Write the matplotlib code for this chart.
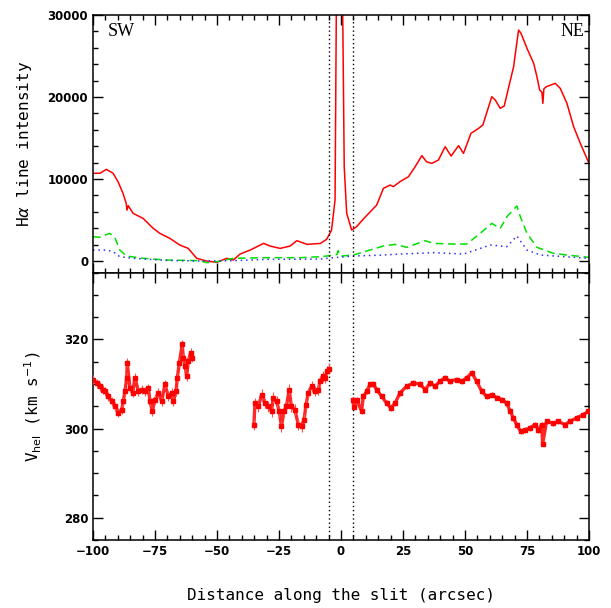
import numpy as np
import matplotlib.pyplot as plt
from matplotlib.ticker import MultipleLocator

# H-alpha intensity, main component (solid red)
x_red = [-100, -97.2, -94.6, -91.9, -89.9, -87.9, -86.6, -86.3, -85.8, -83.8, -79.8, -75.7,
         -73.0, -69.0, -65.0, -61.6, -58.2, -54.2, -50.1, -46.1, -43.4, -40.7, -36.6,
         -31.2, -28.6, -24.5, -20.5, -17.8, -13.7, -8.3, -5.8, -3.8, -2.4, -1.9, -0.6,
         0.7, 1.3, 2.3, 4.3, 6.3, 9.0, 14.4, 17.1, 19.8, 21.1, 23.8, 27.2, 29.9, 32.6,
         34.5, 36.6, 39.3, 42.0, 44.4, 47.4, 49.4, 52.4, 55.5, 57.2, 60.8, 62.2, 64.2,
         65.8, 69.6, 71.6, 72.6, 75.0, 77.7, 79.0, 80.1, 81.0, 81.4, 81.8, 82.8, 86.4,
         88.4, 91.1, 93.8, 96.5, 100]
y_red = [10700, 10700, 11180, 10700, 9680, 8250, 7030, 6200, 6750, 5810, 5200, 3980,
         3370, 2760, 1950, 1540, 330, 0, -160, 330, 120, 850, 1340,
         2150, 1830, 1540, 1830, 2480, 2030, 2150, 2640, 3780, 7440, 30000, 60000,
         30000, 11500, 5810, 3780, 4190, 5120, 6830, 8860, 9270, 9070, 9680, 10280, 11500, 12850,
         12100, 11910, 12320, 13940, 12800, 14070, 13130, 15570, 16180, 16590, 20040, 19630, 18620,
         18900, 23700, 28170, 27760, 25930, 24100, 22480, 20850, 20600, 19230, 21000, 21260, 21670,
         21060, 19230, 16380, 14350, 11910]

# second component (dashed green)
x_grn = [-100, -97.3, -93.3, -91.2, -89.2, -86.5, -79.8, -70.3, -56.9, -54.2, -50.1,
         -43.4, -30.0, -16.4, -8.3, -5.8, -1.6, -1.1, -0.6, 0.3, 5.0, 11.7, 17.1, 21.8,
         26.5, 33.9, 37.3, 45.4, 50.7, 56.1, 60.8, 64.2, 66.9, 70.9, 72.3, 75.0, 79.0,
         85.7, 91.1, 100]
y_grn = [2970, 2890, 3370, 2890, 1340, 610, 330, 120, 40, -200, -80,
         330, 410, 410, 530, 610, 800, 1260, 700, 610, 730, 1340, 1830, 2030,
         1670, 2480, 2150, 2070, 2070, 3370, 4590, 3980, 5410, 6710, 5410, 3370, 1670,
         935, 730, 450]

# third component (dotted blue)
x_blu = [-100, -94.6, -91.9, -89.2, -83.8, -70.3, -56.9, -43.4, -30.0, -8.3, -5.8,
         5.0, 17.1, 23.8, 37.3, 49.4, 60.2, 66.9, 70.9, 75.0, 80.4, 100]
y_blu = [1340, 1340, 1140, 530, 330, 80, 0, 40, 200, 240, 330,
         610, 730, 850, 1020, 850, 1950, 1750, 3050, 1340, 730, 330]

# heliocentric velocity, three segments
x_v1 = [-99.9, -98.5, -97.2, -95.8, -95.2, -93.8, -92.5, -91.1, -89.8, -88.4, -87.8,
        -87.1, -86.4, -86.2, -85.1, -84.0, -83.1, -81.7, -80.4, -79.0, -77.7, -77.0,
        -76.1, -75.0, -73.6, -72.3, -71.0, -69.6, -68.3, -67.6, -66.5, -66.0, -65.2,
        -64.0, -63.6, -62.9, -62.2, -61.6, -60.6, -60.2]
v_v1 = [311.0, 310.2, 309.5, 308.75, 308.4, 307.25, 306.1, 305.0, 303.5, 304.25, 306.1,
        308.4, 311.4, 314.75, 309.1, 308.0, 311.4, 308.4, 308.75, 308.4, 309.1, 306.1,
        303.9, 306.5, 308.0, 306.1, 309.9, 307.25, 308.0, 306.1, 308.4, 311.4, 314.75,
        318.9, 315.9, 314.0, 311.75, 315.1, 317.0, 315.9]

x_v2 = [-35.1, -34.7, -33.3, -32.0, -30.7, -29.3, -28.0, -27.3, -26.0, -24.9, -24.0,
        -23.0, -22.0, -20.9, -20.0, -18.6, -17.2, -15.9, -14.9, -14.1, -13.2, -11.8,
        -10.5, -9.1, -8.5, -7.4, -6.4, -5.5, -5.0]
v_v2 = [300.85, 305.7, 305.0, 307.6, 305.7, 305.0, 303.85, 306.9, 306.1, 303.85, 300.5,
        303.85, 305.0, 308.7, 305.0, 304.2, 300.85, 300.5, 302.0, 305.35, 308.0, 309.5,
        308.4, 308.7, 310.6, 311.7, 311.4, 312.9, 313.4]

x_v3 = [4.7, 5.2, 6.3, 8.3, 9.0, 10.4, 11.7, 13.0, 14.4, 16.4, 18.4, 20.0, 21.8, 23.8,
        26.5, 29.2, 31.9, 33.9, 35.9, 37.9, 39.9, 41.9, 43.9, 46.6, 48.7, 50.7, 52.7,
        54.7, 56.7, 58.7, 60.8, 62.8, 64.8, 66.8, 68.2, 69.5, 70.8, 72.4, 74.2, 76.2,
        78.2, 79.6, 80.9, 81.3, 82.9, 85.6, 87.6, 90.3, 92.3, 95.0, 97.7, 99.7]
v_v3 = [306.5, 304.8, 306.5, 303.9, 307.2, 308.4, 309.9, 310.0, 308.7, 307.2, 305.7, 304.6,
        305.7, 308.0, 309.5, 310.2, 310.0, 308.7, 310.2, 309.5, 310.6, 311.4, 310.6, 311.0,
        310.6, 311.4, 312.5, 310.6, 308.4, 307.2, 307.6, 306.9, 306.5, 305.7, 303.9, 302.4,
        300.9, 299.4, 299.7, 300.1, 300.9, 299.7, 300.9, 296.6, 301.6, 301.2, 301.6, 300.9,
        301.6, 302.4, 303.1, 303.9]
verr = [1.0, 1.2, 0.6]

slit_edges = [-5, 5]

fig = plt.figure(figsize=(6.11, 6.08), dpi=100)
ax1 = fig.add_axes([0.1522, 0.5518, 0.8118, 0.4235])
ax2 = fig.add_axes([0.1522, 0.1118, 0.8118, 0.44])

ax1.plot(x_red, y_red, color='#ff0000', lw=1.1)
ax1.plot(x_grn, y_grn, color='#00e000', lw=1.1, dashes=(5, 3))
ax1.plot(x_blu, y_blu, color='#3030ff', lw=1.1, dashes=(1, 2.5))
ax1.set_ylim(-1400, 30000)

for xs, vs, e in zip([x_v1, x_v2, x_v3], [v_v1, v_v2, v_v3], verr):
    ax2.plot(xs, vs, color='#ff0000', lw=2.4, alpha=0.85, zorder=2)
    ax2.errorbar(xs, vs, yerr=e, xerr=0.3, fmt='s', ms=2.3, color='#ff0000',
                 ecolor='#ff5050', elinewidth=0.8, capsize=0, zorder=3)
ax2.set_ylim(275, 335)

for ax in (ax1, ax2):
    ax.set_xlim(-100, 100)
    for xv in slit_edges:
        ax.axvline(xv, color='black', lw=1.0, ls=(0, (1, 2)))
    ax.xaxis.set_major_locator(MultipleLocator(25))
    ax.xaxis.set_minor_locator(MultipleLocator(5))
    ax.tick_params(which='both', direction='in', top=True, right=True, width=1.0,
                   labelsize=8.5)
    ax.tick_params(which='major', length=7)
    ax.tick_params(which='minor', length=3.5)
    for s in ax.spines.values():
        s.set_linewidth(1.1)

ax1.yaxis.set_major_locator(MultipleLocator(10000))
ax1.yaxis.set_minor_locator(MultipleLocator(2000))
ax1.tick_params(axis='x', labelbottom=False)
ax2.yaxis.set_major_locator(MultipleLocator(20))
ax2.yaxis.set_minor_locator(MultipleLocator(5))
for lab in ax1.get_yticklabels() + ax2.get_yticklabels() + ax2.get_xticklabels():
    lab.set_fontweight('bold')

ax1.text(0.03, 0.97, 'SW', transform=ax1.transAxes, ha='left', va='top',
         family='Liberation Serif', fontsize=13)
ax1.text(0.99, 0.97, 'NE', transform=ax1.transAxes, ha='right', va='top',
         family='Liberation Serif', fontsize=13)

ax1.set_ylabel(r'H$\alpha$ line intensity', family='DejaVu Sans Mono', fontsize=11.5,
               labelpad=10)
ax2.set_ylabel(r'V$_{\rm hel}$ (km s$^{-1}$)', family='DejaVu Sans Mono', fontsize=11.5,
               labelpad=14)
ax2.set_xlabel('Distance along the slit (arcsec)', family='DejaVu Sans Mono',
               fontsize=11.5, labelpad=22)
fig.align_ylabels([ax1, ax2])

plt.savefig('out.png', dpi=100)
